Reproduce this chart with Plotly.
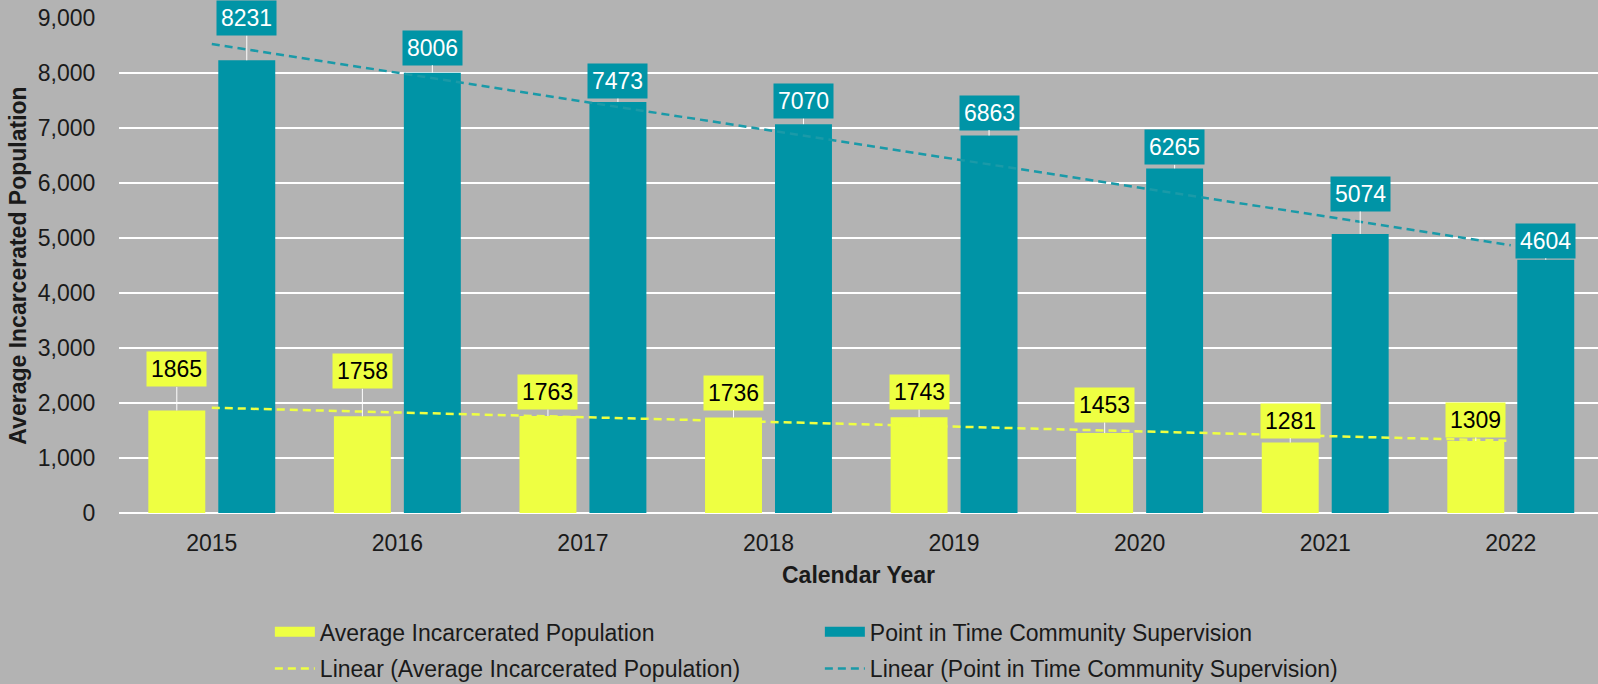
import numpy as np
import plotly.graph_objects as go

years = ["2015", "2016", "2017", "2018", "2019", "2020", "2021", "2022"]
incarcerated = [1865, 1758, 1763, 1736, 1743, 1453, 1281, 1309]
supervision = [8231, 8006, 7473, 7070, 6863, 6265, 5074, 4604]
# pixel offsets of the callout labels above their bar tops (as placed in the source)
inc_label_dy = [-41, -45, -24, -25, -25, -28, -22, -21]
sup_label_dy = [-42, -25, -21, -23, -23, -21, -40, -19]

YELLOW = "#EEFF42"
TEAL = "#0094A6"
BG = "#B3B3B3"
FONT = "Liberation Sans, Arial, sans-serif"
FS = 23

x = np.arange(len(years))

def trend(vals):
    m, b = np.polyfit(x, vals, 1)
    return m * x + b

fig = go.Figure()
fig.add_trace(go.Bar(x=x, y=incarcerated, name="Average Incarcerated Population",
                     marker=dict(color=YELLOW, line=dict(width=0)), showlegend=False))
fig.add_trace(go.Bar(x=x, y=supervision, name="Point in Time Community Supervision",
                     marker=dict(color=TEAL, line=dict(width=0)), showlegend=False))
fig.add_trace(go.Scatter(x=x, y=trend(incarcerated), mode="lines",
                         name="Linear (Average Incarcerated Population)", legend="legend2",
                         line=dict(color=YELLOW, width=2.5, dash="8px,5px")))
fig.add_trace(go.Scatter(x=x, y=trend(supervision), mode="lines",
                         name="Linear (Point in Time Community Supervision)", legend="legend2",
                         line=dict(color="#1A9AA8", width=2.5, dash="8px,5px")))
# legend-only swatches for the bar series (wide rectangles like the source)
fig.add_trace(go.Scatter(x=[None], y=[None], mode="lines", name="Average Incarcerated Population",
                         legend="legend", line=dict(color=YELLOW, width=14)))
fig.add_trace(go.Scatter(x=[None], y=[None], mode="lines", name="Point in Time Community Supervision",
                         legend="legend", line=dict(color=TEAL, width=14)))

bargap = 0.246
slot = (1 - bargap) / 2
annotations = []
for i in range(len(years)):
    annotations.append(dict(
        x=x[i] - slot / 2, y=incarcerated[i], xref="x", yref="y",
        text=str(incarcerated[i]), showarrow=True, arrowhead=0, arrowwidth=1,
        arrowcolor="white", ax=0, ay=inc_label_dy[i], bgcolor=YELLOW,
        borderpad=4, font=dict(family=FONT, size=FS, color="black")))
    annotations.append(dict(
        x=x[i] + slot / 2, y=supervision[i], xref="x", yref="y",
        text=str(supervision[i]), showarrow=True, arrowhead=0, arrowwidth=1,
        arrowcolor="white", ax=0, ay=sup_label_dy[i], bgcolor=TEAL,
        borderpad=4, font=dict(family=FONT, size=FS, color="white")))

legend_common = dict(orientation="h", x=0.102, xanchor="left", yanchor="middle",
                     entrywidth=495, entrywidthmode="pixels", bgcolor="rgba(0,0,0,0)",
                     font=dict(family=FONT, size=FS, color="#1a1a1a"),
                     itemwidth=40, traceorder="normal")

fig.update_layout(
    width=1598, height=684,
    paper_bgcolor=BG, plot_bgcolor=BG,
    margin=dict(l=119, r=0, t=18, b=171, autoexpand=False),
    barmode="group", bargap=bargap, bargroupgap=0.186,
    font=dict(family=FONT, size=FS, color="#1a1a1a"),
    annotations=annotations,
    showlegend=True,
    legend=dict(y=-0.240, **legend_common),
    legend2=dict(y=-0.314, **legend_common),
)
fig.update_xaxes(
    tickvals=x, ticktext=years, range=[-0.5, 7.47],
    showgrid=False, zeroline=False, showline=False,
    ticks="outside", ticklen=9, tickcolor="rgba(0,0,0,0)",
    title=dict(text="<b>Calendar Year</b>", font=dict(family=FONT, size=FS, color="#1a1a1a"), standoff=12),
    tickfont=dict(family=FONT, size=FS),
)
fig.update_yaxes(
    range=[0, 9000], dtick=1000, tickformat=",",
    showgrid=True, gridcolor="white", gridwidth=2,
    zeroline=True, zerolinecolor="white", zerolinewidth=2,
    ticks="outside", ticklen=18, tickcolor="rgba(0,0,0,0)",
    title=dict(text="<b>Average Incarcerated Population</b>", font=dict(family=FONT, size=FS, color="#1a1a1a"), standoff=4),
    tickfont=dict(family=FONT, size=FS),
)

fig.write_html("out.html", config={"displayModeBar": False},
               post_script="document.body.style.margin='0';document.body.style.overflow='hidden';")
